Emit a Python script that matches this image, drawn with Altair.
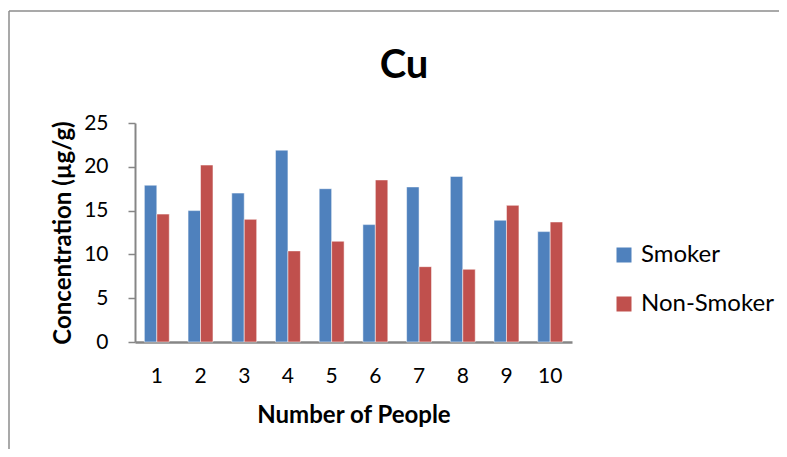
import altair as alt
import pandas as pd

people = ["1", "2", "3", "4", "5", "6", "7", "8", "9", "10"]
smoker = [17.9, 15.0, 17.0, 21.9, 17.5, 13.4, 17.7, 18.9, 13.9, 12.6]
non_smoker = [14.6, 20.2, 14.0, 10.4, 11.5, 18.5, 8.6, 8.3, 15.6, 13.7]
series = ["Smoker", "Non-Smoker"]
colors = ["#4F81BD", "#C0504D"]
chart_title = ["Cu"]

rows = []
for i, p in enumerate(people):
    rows.append({"People": p, "Group": series[0], "Value": smoker[i]})
    rows.append({"People": p, "Group": series[1], "Value": non_smoker[i]})
df = pd.DataFrame(rows)

FONT = "Lato"
AXIS_GRAY = "#868686"

bars = alt.Chart(df).mark_bar(stroke="white", strokeOpacity=0.5, strokeWidth=1).encode(
    x=alt.X("People:N", sort=people,
            scale=alt.Scale(paddingInner=0.43, paddingOuter=0.214),
            axis=alt.Axis(title="Number of People", labelAngle=0, ticks=False,
                          labelFontSize=21, labelPadding=23, labelColor="black",
                          titleFontSize=24, titleFontWeight="bold", titlePadding=17,
                          titleColor="black", domainColor=AXIS_GRAY, domainWidth=2.5)),
    xOffset=alt.XOffset("Group:N", sort=series),
    y=alt.Y("Value:Q", scale=alt.Scale(domain=[0, 25]),
            axis=alt.Axis(title="Concentration (µg/g)", values=[0, 5, 10, 15, 20, 25],
                          grid=False, tickSize=7, tickColor=AXIS_GRAY, tickWidth=1.5,
                          labelFontSize=21, labelPadding=20, labelColor="black",
                          titleFontSize=24, titleFontWeight="bold", titlePadding=8,
                          titleColor="black", domainColor=AXIS_GRAY, domainWidth=2)),
    color=alt.Color("Group:N", sort=series,
                    scale=alt.Scale(domain=series, range=colors),
                    legend=alt.Legend(title=None, orient="none", legendX=477, legendY=120,
                                      padding=0,
                                      symbolType="square", symbolSize=225,
                                      symbolStrokeWidth=0, labelFontSize=24,
                                      labelColor="black", rowPadding=25, labelOffset=5)),
)

# frame: only the top and left edges of the chart frame are visible in the window
frame_top = alt.Chart(pd.DataFrame({"a": [0]})).mark_rule(
    stroke="#8c8c8c", strokeWidth=1.5
).encode(x=alt.value(-126), x2=alt.value(650), y=alt.value(-112))

frame_left = alt.Chart(pd.DataFrame({"a": [0]})).mark_rule(
    stroke="#8c8c8c", strokeWidth=1.5
).encode(x=alt.value(-126), y=alt.value(-112), y2=alt.value(340))

title = alt.Chart(pd.DataFrame({"t": chart_title})).mark_text(
    font=FONT, fontSize=40, fontWeight="bold", color="black",
    align="center", baseline="alphabetic"
).encode(text="t:N", x=alt.value(269), y=alt.value(-45))

chart = alt.layer(frame_top, frame_left, bars, title).properties(
    width=437, height=219,
    padding={"left": 127, "top": 115, "right": 207, "bottom": 107},
    autosize=alt.AutoSizeParams(type="none"),
).configure(font=FONT).configure_view(stroke=None).configure_axis(
    labelFont=FONT, titleFont=FONT
).configure_legend(labelFont=FONT)

chart.save("out.html", embed_options={"renderer": "svg", "actions": False})
